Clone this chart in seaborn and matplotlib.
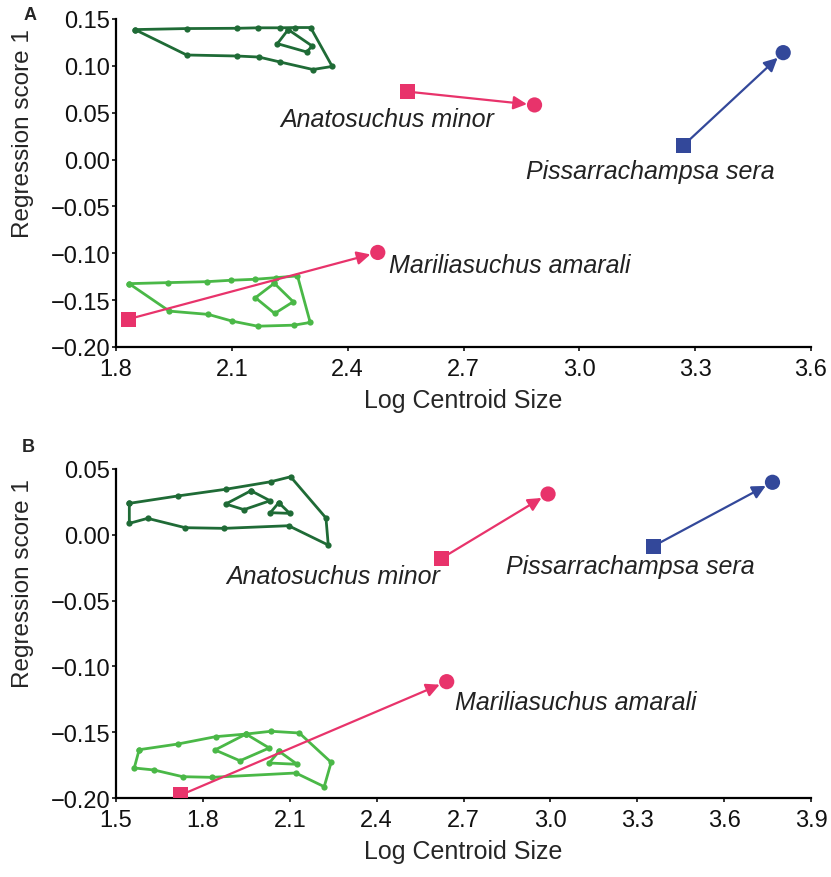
import numpy as np
import pandas as pd
import matplotlib
matplotlib.use("Agg")
import matplotlib.pyplot as plt
import seaborn as sns

# ==============================
# Data - Panel A
# ==============================

a_dark_outer_x = [1.849, 1.983, 2.114, 2.169, 2.225, 2.264, 2.304, 2.360, 2.310, 2.225, 2.170, 2.114, 1.983]
a_dark_outer_y = [0.1387, 0.1398, 0.1401, 0.1406, 0.1406, 0.1409, 0.1409, 0.0994, 0.0961, 0.1041, 0.1094, 0.1105, 0.1116]
a_dark_inner_x = [2.246, 2.308, 2.294, 2.218]
a_dark_inner_y = [0.1387, 0.1212, 0.1148, 0.1237]

a_light_outer_x = [1.834, 1.935, 2.035, 2.097, 2.161, 2.215, 2.270, 2.303, 2.261, 2.167, 2.101, 2.039, 1.938]
a_light_outer_y = [-0.1324, -0.1313, -0.1303, -0.1288, -0.1277, -0.1260, -0.1241, -0.1738, -0.1767, -0.1778, -0.1724, -0.1652, -0.1617]
a_light_inner_x = [2.210, 2.259, 2.211, 2.161]
a_light_inner_y = [-0.1320, -0.1517, -0.1642, -0.1474]

species = ["Anatosuchus minor", "Pissarrachampsa sera", "Mariliasuchus amarali"]
a_start_x = [2.555, 3.270, 1.832]
a_start_y = [0.0725, 0.0153, -0.1703]
a_end_x = [2.884, 3.528, 2.478]
a_end_y = [0.0583, 0.1141, -0.0991]

a_xticks = [1.8, 2.1, 2.4, 2.7, 3.0, 3.3, 3.6]
a_yticks = [0.15, 0.10, 0.05, 0.00, -0.05, -0.10, -0.15, -0.20]

# ==============================
# Data - Panel B
# ==============================

b_dark_outer_x = [1.546, 1.713, 1.879, 2.034, 2.103, 2.225, 2.233, 2.096, 1.874, 1.739, 1.609, 1.546]
b_dark_outer_y = [0.0239, 0.0295, 0.0346, 0.0403, 0.0441, 0.0128, -0.0078, 0.0069, 0.0049, 0.0054, 0.0125, 0.0087]
b_dark_quad_x = [1.966, 2.032, 1.942, 1.879]
b_dark_quad_y = [0.0335, 0.0259, 0.0191, 0.0234]
b_dark_tri_x = [2.062, 2.100, 2.033]
b_dark_tri_y = [0.0244, 0.0163, 0.0168]

b_light_outer_x = [1.580, 1.713, 1.844, 1.949, 2.035, 2.133, 2.243, 2.219, 2.121, 1.832, 1.730, 1.631, 1.563]
b_light_outer_y = [-0.1633, -0.1590, -0.1534, -0.1514, -0.1493, -0.1506, -0.1729, -0.1914, -0.1810, -0.1843, -0.1838, -0.1787, -0.1772]
b_light_quad_x = [1.949, 2.029, 1.928, 1.842]
b_light_quad_y = [-0.1514, -0.1620, -0.1717, -0.1635]
b_light_tri_x = [2.063, 2.126, 2.029]
b_light_tri_y = [-0.1645, -0.1744, -0.1734]

b_start_x = [2.624, 3.355, 1.724]
b_start_y = [-0.0179, -0.0087, -0.1977]
b_end_x = [2.992, 3.767, 2.642]
b_end_y = [0.0310, 0.0399, -0.1116]

b_xticks = [1.5, 1.8, 2.1, 2.4, 2.7, 3.0, 3.3, 3.6, 3.9]
b_yticks = [0.05, 0.00, -0.05, -0.10, -0.15, -0.20]

# ==============================
# Style
# ==============================

sns.set_style("ticks")
plt.rcParams["font.family"] = ["Liberation Sans", "DejaVu Sans"]

DARK = "#1f6b36"
LIGHT = "#4ab847"
PINK = "#e8336b"
BLUE = "#33489a"
species_colors = [PINK, BLUE, PINK]

fig = plt.figure(figsize=(8.31, 8.78), dpi=100)
W, H = 831, 878
ax_a = fig.add_axes([116 / W, 1 - 348 / H, 695 / W, 328 / H])
ax_b = fig.add_axes([116 / W, 1 - 799 / H, 695 / W, 329 / H])


def fmt(v, nd):
    s = f"{v:.{nd}f}"
    return s.replace("-", "\u2212")


def draw_hull(ax, xs, ys, color):
    df = pd.DataFrame({"x": list(xs) + [xs[0]], "y": list(ys) + [ys[0]]})
    sns.lineplot(data=df, x="x", y="y", sort=False, estimator=None, ax=ax,
                 color=color, lw=2.0, marker="o", markersize=4.5,
                 markeredgewidth=0, zorder=2)


def draw_species(ax, sx, sy, ex, ey):
    for i in range(len(sx)):
        c = species_colors[i]
        ax.annotate("", xy=(ex[i], ey[i]), xytext=(sx[i], sy[i]),
                    arrowprops=dict(arrowstyle="-|>", color=c, lw=1.6,
                                    mutation_scale=20, shrinkA=0, shrinkB=5.5),
                    zorder=4)
    pts = pd.DataFrame({"x": sx + ex, "y": sy + ey,
                        "kind": ["start"] * len(sx) + ["end"] * len(ex),
                        "c": species_colors + species_colors})
    sns.scatterplot(data=pts, x="x", y="y", style="kind", hue="c",
                    palette={PINK: PINK, BLUE: BLUE},
                    markers={"start": "s", "end": "o"}, s=120,
                    edgecolor="none", legend=False, ax=ax, zorder=5)


def style_axis(ax, xticks, yticks, xlim, ylim):
    ax.set_xlim(*xlim)
    ax.set_ylim(*ylim)
    ax.set_xticks(xticks)
    ax.set_xticklabels([fmt(v, 1) for v in xticks])
    ax.set_yticks(yticks)
    ax.set_yticklabels([fmt(v, 2) for v in yticks])
    sns.despine(ax=ax)
    for s in ["left", "bottom"]:
        ax.spines[s].set_linewidth(1.6)
        ax.spines[s].set_color("black")
    ax.tick_params(axis="both", labelsize=17, length=3, width=1.2,
                   direction="out", colors="#111111")
    ax.tick_params(axis="y", pad=1)
    ax.tick_params(axis="x", pad=5)
    ax.set_xlabel("Log Centroid Size", fontsize=18, labelpad=6)
    ax.set_ylabel("Regression score 1", fontsize=17.5)
    ax.yaxis.set_label_coords(-0.118, 0.655)


# ==============================
# Panel A
# ==============================

draw_hull(ax_a, a_dark_outer_x, a_dark_outer_y, DARK)
draw_hull(ax_a, a_dark_inner_x, a_dark_inner_y, DARK)
draw_hull(ax_a, a_light_outer_x, a_light_outer_y, LIGHT)
draw_hull(ax_a, a_light_inner_x, a_light_inner_y, LIGHT)
draw_species(ax_a, a_start_x, a_start_y, a_end_x, a_end_y)
style_axis(ax_a, a_xticks, a_yticks, (1.8, 3.6), (-0.20, 0.15))

ax_a.text(2.502, 0.0432, species[0], style="italic", fontsize=18, ha="center", va="center", color="#222222")
ax_a.text(3.183, -0.0126, species[1], style="italic", fontsize=18, ha="center", va="center", color="#222222")
ax_a.text(2.507, -0.1124, species[2], style="italic", fontsize=18, ha="left", va="center", color="#222222")

# ==============================
# Panel B
# ==============================

draw_hull(ax_b, b_dark_outer_x, b_dark_outer_y, DARK)
draw_hull(ax_b, b_dark_quad_x, b_dark_quad_y, DARK)
draw_hull(ax_b, b_dark_tri_x, b_dark_tri_y, DARK)
draw_hull(ax_b, b_light_outer_x, b_light_outer_y, LIGHT)
draw_hull(ax_b, b_light_quad_x, b_light_quad_y, LIGHT)
draw_hull(ax_b, b_light_tri_x, b_light_tri_y, LIGHT)
draw_species(ax_b, b_start_x, b_start_y, b_end_x, b_end_y)
style_axis(ax_b, b_xticks, b_yticks, (1.5, 3.9), (-0.20, 0.05))

ax_b.text(2.618, -0.0313, species[0], style="italic", fontsize=18, ha="right", va="center", color="#222222")
ax_b.text(2.846, -0.0237, species[1], style="italic", fontsize=18, ha="left", va="center", color="#222222")
ax_b.text(2.670, -0.1270, species[2], style="italic", fontsize=18, ha="left", va="center", color="#222222")

fig.text(30 / W, 1 - 15 / H, "A", fontsize=13, fontweight="bold", ha="center", va="center")
fig.text(28 / W, 1 - 448 / H, "B", fontsize=13, fontweight="bold", ha="center", va="center")

fig.savefig("out.png", dpi=100)
plt.close(fig)
